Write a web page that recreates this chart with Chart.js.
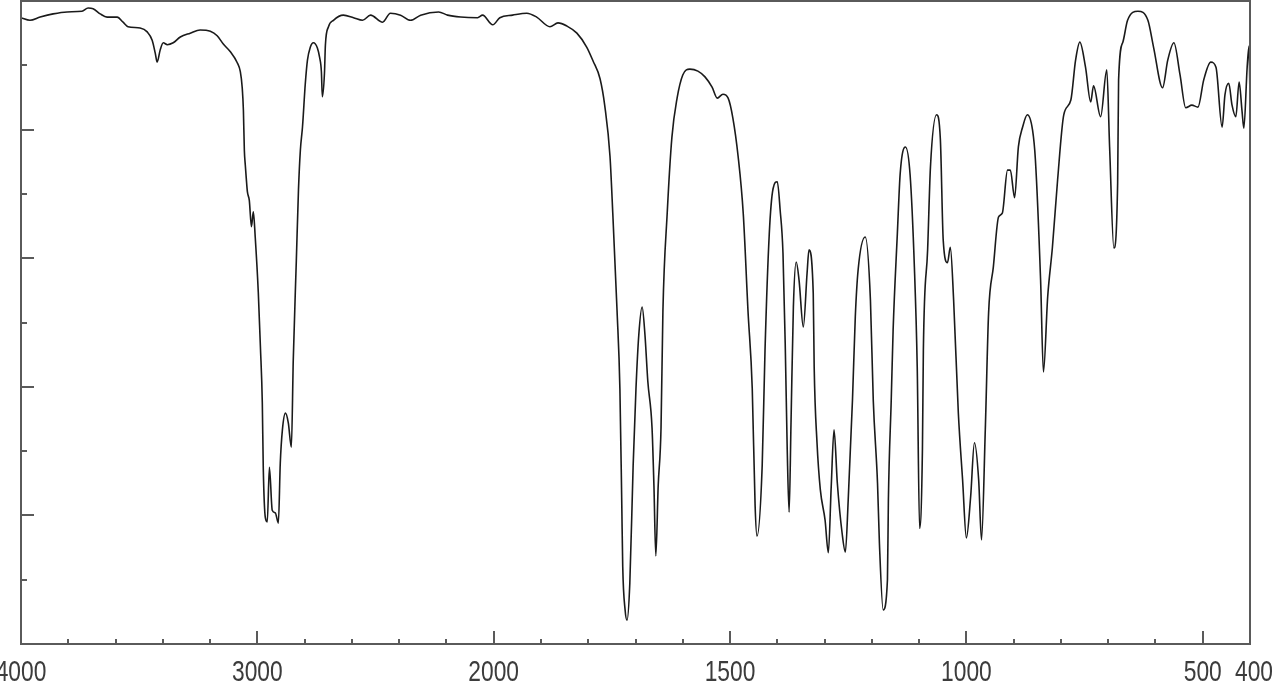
<!DOCTYPE html>
<html>
<head>
<meta charset="utf-8">
<script src="https://cdn.jsdelivr.net/npm/chart.js@4.4.1/dist/chart.umd.min.js"></script>
<style>
html, body { margin: 0; padding: 0; background: #fff; }
</style>
</head>
<body>
<canvas id="myChart" width="1276" height="700"></canvas>
<script>
// spectrum: wavenumber (cm-1) and %T
const wavenumbers = [
  4000, 3962, 3919, 3864, 3805, 3742, 3716, 3695, 3665, 3636, 3593, 3568, 3547, 3496, 3466, 3445, 3432, 3424, 3411, 3398,
  3381, 3356, 3326, 3284, 3242, 3199, 3170, 3144, 3114, 3085, 3072, 3064, 3059, 3055, 3051, 3047, 3042, 3034, 3025, 3017,
  3009, 2996, 2987, 2979, 2975, 2966, 2958, 2949, 2937, 2924, 2911, 2903, 2894, 2881, 2869, 2856, 2848, 2835, 2826, 2818,
  2809, 2797, 2788, 2776, 2763, 2746, 2737, 2729, 2725, 2716, 2712, 2699, 2678, 2636, 2593, 2555, 2521, 2470, 2437, 2394,
  2352, 2309, 2233, 2195, 2140, 2068, 2047, 2004, 1987, 1960, 1930, 1909, 1881, 1864, 1845, 1824, 1803, 1790, 1775, 1765,
  1754, 1748, 1739, 1733, 1729, 1727, 1722, 1718, 1712, 1705, 1699, 1693, 1686, 1680, 1674, 1665, 1661, 1657, 1652, 1646,
  1642, 1633, 1623, 1612, 1600, 1585, 1568, 1553, 1538, 1527, 1515, 1504, 1494, 1483, 1472, 1462, 1453, 1447, 1443, 1432,
  1426, 1417, 1409, 1400, 1394, 1388, 1383, 1379, 1375, 1371, 1366, 1360, 1354, 1345, 1337, 1333, 1324, 1322, 1316, 1309,
  1299, 1292, 1286, 1280, 1273, 1263, 1256, 1250, 1241, 1235, 1229, 1214, 1203, 1197, 1188, 1184, 1176, 1167, 1165, 1159,
  1155, 1146, 1140, 1129, 1119, 1110, 1104, 1099, 1093, 1091, 1082, 1076, 1063, 1055, 1049, 1040, 1034, 1027, 1017, 1008,
  1000, 991, 983, 974, 968, 960, 953, 943, 932, 924, 913, 907, 898, 890, 881, 871, 860, 854, 843, 837,
  828, 818, 807, 794, 779, 769, 760, 748, 737, 731, 716, 703, 697, 688, 680, 678, 669, 659, 637, 616,
  604, 585, 574, 561, 548, 536, 523, 510, 498, 483, 472, 459, 453, 445, 438, 430, 423, 417, 413, 406,
  402, 400
]
const transmittance = [
  97.4, 97.0, 97.5, 98.0, 98.3, 98.4, 98.9, 98.8, 98.0, 97.5, 97.5, 96.7, 96.0, 95.8, 95.2, 93.9, 91.9, 90.5, 92.4, 93.5,
  93.2, 93.5, 94.4, 95.0, 95.5, 95.3, 94.6, 93.3, 92.1, 90.4, 89.0, 86.5, 83.0, 76.8, 74.5, 72.5, 70.3, 69.0, 64.9, 67.2,
  63.3, 54.7, 46.2, 37.5, 27.5, 19.6, 19.0, 27.5, 20.8, 20.4, 18.8, 28.1, 33.3, 35.9, 34.4, 30.6, 44.2, 59.7, 70.6, 76.8,
  80.4, 87.2, 90.8, 92.8, 93.5, 92.7, 91.3, 89.0, 85.1, 88.8, 93.2, 96.0, 97.0, 97.8, 97.4, 97.0, 97.8, 96.7, 98.1, 97.8,
  97.0, 97.8, 98.3, 97.8, 97.5, 97.4, 97.8, 96.3, 97.4, 97.8, 98.1, 97.5, 96.0, 96.6, 96.1, 95.0, 92.8, 90.7, 87.9, 83.7,
  75.9, 66.9, 51.8, 39.7, 21.6, 12.0, 5.3, 3.7, 9.5, 27.7, 39.7, 48.1, 52.4, 48.1, 40.9, 33.6, 24.6, 13.7, 24.6, 33.6,
  51.8, 66.9, 78.8, 84.9, 88.5, 89.4, 89.1, 88.2, 86.6, 84.9, 85.5, 84.9, 81.8, 75.9, 66.9, 51.8, 39.7, 21.6, 16.8, 27.7,
  45.7, 63.8, 70.8, 71.9, 67.5, 60.8, 45.7, 30.2, 20.5, 34.4, 52.4, 59.4, 56.6, 49.3, 57.7, 61.3, 54.6, 43.1, 31.3, 24.0,
  19.3, 14.2, 24.4, 33.3, 25.0, 17.3, 14.3, 22.4, 37.9, 50.9, 58.2, 63.3, 53.5, 37.9, 25.0, 15.7, 5.3, 10.0, 22.4, 37.9,
  48.8, 63.9, 73.2, 77.3, 72.9, 58.6, 43.1, 18.0, 30.2, 45.7, 61.3, 74.2, 82.3, 78.4, 62.8, 59.3, 61.7, 53.5, 35.9, 25.5,
  16.5, 22.9, 31.3, 25.5, 16.2, 33.3, 51.5, 58.6, 66.4, 67.0, 73.7, 73.7, 69.4, 77.3, 80.4, 82.3, 79.9, 75.3, 56.6, 42.3,
  54.0, 61.7, 72.2, 82.3, 84.6, 90.8, 93.6, 89.7, 84.3, 86.8, 82.0, 89.3, 77.3, 61.6, 71.7, 87.7, 93.6, 97.0, 98.4, 97.0,
  92.8, 86.5, 90.8, 93.5, 88.5, 83.4, 83.8, 83.5, 87.7, 90.5, 89.7, 80.4, 85.4, 87.2, 83.8, 82.0, 87.4, 83.0, 80.2, 89.7,
  93.0, 84.6
]

const labelTicks = [4000, 3000, 2000, 1500, 1000, 500, 400]
const majorTicks = [3000, 2000, 1500, 1000, 500]
const minorTicks = [3800, 3600, 3400, 3200, 2800, 2600, 2400, 2200, 1900, 1800, 1700, 1600, 1400, 1300, 1200, 1100, 900, 800, 700, 600]
const yMajor = [20, 40, 60, 80]
const yMinor = [10, 30, 50, 70, 90]

// above 2000 the axis is compressed by half, like the instrument print
function toAxis(wn) {
  if (wn >= 2000) return 4000 - wn
  return 2000 + 2 * (2000 - wn)
}

const points = wavenumbers.map((w, i) => ({ x: toAxis(w), y: transmittance[i] }))

// frame, inward tick marks and narrow axis numbers
const framePlugin = {
  id: 'frame',
  afterDraw(chart) {
    let ctx = chart.ctx
    let a = chart.chartArea
    let xs = chart.scales.x
    let ys = chart.scales.y
    ctx.save()
    ctx.strokeStyle = '#5a5a5a'
    ctx.lineWidth = 2
    ctx.strokeRect(a.left, a.top, a.right - a.left, a.bottom - a.top)
    ctx.beginPath()
    majorTicks.forEach(w => {
      let px = Math.round(xs.getPixelForValue(toAxis(w)))
      ctx.moveTo(px, a.bottom); ctx.lineTo(px, a.bottom - 13)
    })
    minorTicks.forEach(w => {
      let px = Math.round(xs.getPixelForValue(toAxis(w)))
      ctx.moveTo(px, a.bottom); ctx.lineTo(px, a.bottom - 5)
    })
    yMajor.forEach(v => {
      let py = Math.round(ys.getPixelForValue(v))
      ctx.moveTo(a.left, py); ctx.lineTo(a.left + 13, py)
    })
    yMinor.forEach(v => {
      let py = Math.round(ys.getPixelForValue(v))
      ctx.moveTo(a.left, py); ctx.lineTo(a.left + 6, py)
    })
    ctx.stroke()

    ctx.fillStyle = '#3c3c3c'
    ctx.font = '30px "Liberation Sans", Arial, sans-serif'
    ctx.textAlign = 'center'
    ctx.textBaseline = 'alphabetic'
    labelTicks.forEach(w => {
      let px = xs.getPixelForValue(toAxis(w))
      if (w === 400) px += 4
      ctx.save()
      ctx.translate(px, a.bottom + 37)
      ctx.scale(0.76, 1)
      ctx.fillText(String(w), 0, 0)
      ctx.restore()
    })
    ctx.restore()
  }
}

let ctx = document.getElementById('myChart').getContext('2d')
let myChart = new Chart(ctx, {
  type: 'line',
  data: {
    datasets: [{
      data: points,
      borderColor: '#1a1a1a',
      borderWidth: 1.6,
      pointRadius: 0,
      cubicInterpolationMode: 'monotone',
      fill: false
    }]
  },
  options: {
    responsive: false,
    animation: false,
    devicePixelRatio: 1,
    layout: { padding: { left: 21, top: 1, right: 26, bottom: 0 } },
    plugins: { legend: { display: false }, tooltip: { enabled: false } },
    scales: {
      x: {
        type: 'linear',
        min: 0,
        max: 5200,
        afterBuildTicks: (scale) => {
          scale.ticks = labelTicks.map(w => ({ value: toAxis(w) }))
        },
        afterFit: (scale) => {
          scale.height = 56
          scale.paddingLeft = 0
          scale.paddingRight = 0
        },
        ticks: { display: false },
        grid: { display: false },
        border: { display: false }
      },
      y: {
        display: false,
        min: 0,
        max: 100
      }
    }
  },
  plugins: [framePlugin]
})
</script>
</body>
</html>
